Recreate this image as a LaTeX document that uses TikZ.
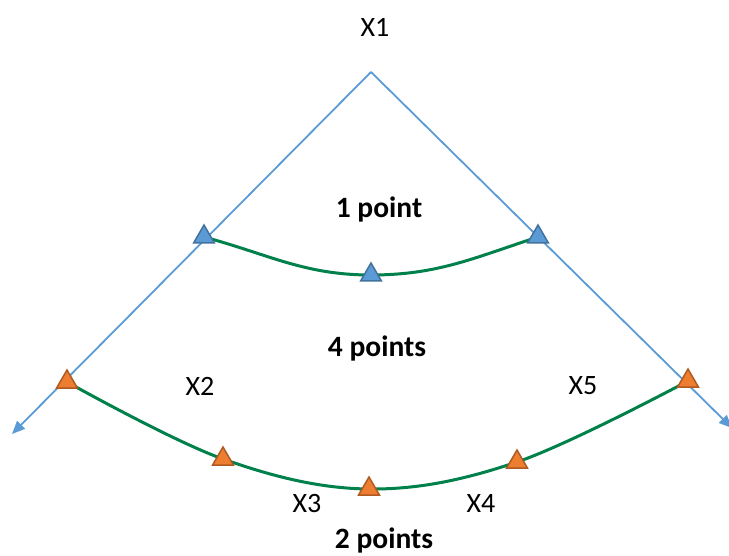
\documentclass[tikz,border=0pt]{standalone}
\usepackage{fontspec}
\setmainfont{Carlito}
\usetikzlibrary{shapes.geometric,arrows.meta}
\definecolor{axisblue}{HTML}{5B9BD5}
\definecolor{blueedge}{HTML}{41719C}
\definecolor{orfill}{HTML}{ED7D31}
\definecolor{oredge}{HTML}{AE5A21}
\definecolor{curvegreen}{HTML}{00804B}
\tikzset{
  axisline/.style={draw=axisblue,line width=1.8pt,-{Triangle[length=13pt,width=11pt]}},
  curveline/.style={draw=curvegreen,line width=3pt},
  bluemark/.style={regular polygon,regular polygon sides=3,minimum size=24pt,inner sep=0pt,fill=axisblue,draw=blueedge,line width=1.5pt},
  ormark/.style={regular polygon,regular polygon sides=3,minimum size=24pt,inner sep=0pt,fill=orfill,draw=oredge,line width=1.5pt},
  lbl/.style={font=\fontsize{28}{32}\selectfont,inner sep=0pt},
  blbl/.style={font=\fontsize{29.5}{34}\selectfont\bfseries,inner sep=0pt}
}
\begin{document}
\begin{tikzpicture}[x=1pt,y=-1pt]
\useasboundingbox (0,0) rectangle (729,556);
% points
\coordinate (apex) at (371,72);
\coordinate (endL) at (12,434);
\coordinate (endR) at (732,428);
\coordinate (b1) at (204,237);
\coordinate (b2) at (371,275);
\coordinate (b3) at (538,237);
\coordinate (o1) at (67,382);
\coordinate (o2) at (223,459);
\coordinate (o3) at (369,489);
\coordinate (o4) at (517,462);
\coordinate (o5) at (688,381);
% axes
\draw[axisline] (apex) -- (endL);
\draw[axisline] (apex) -- (endR);
% curves
\draw[curveline] (b1) to[out=-15,in=180] (b2) to[out=0,in=198] (b3);
\draw[curveline] plot[smooth,tension=0.6] coordinates {(o1) (o2) (o3) (o4) (o5)};
% markers
\node[bluemark] (m1) at (b1) {};
\node[bluemark] (m2) at (b2) {};
\node[bluemark] (m3) at (b3) {};
\node[ormark] (n1) at (o1) {};
\node[ormark] (n2) at (o2) {};
\node[ormark] (n3) at (o3) {};
\node[ormark] (n4) at (o4) {};
\node[ormark] (n5) at (o5) {};
% labels
\node[lbl] (x1) at (375,27) {X1};
\node[lbl] (x2) at (200,386) {X2};
\node[lbl] (x5) at (583,386) {X5};
\node[lbl] (x3) at (307,504) {X3};
\node[lbl] (x4) at (481,504) {X4};
\node[blbl] (p1) at (379,209) {1 point};
\node[blbl] (p4) at (377,348) {4 points};
\node[blbl] (p2) at (384,540) {2 points};
\end{tikzpicture}
\end{document}
